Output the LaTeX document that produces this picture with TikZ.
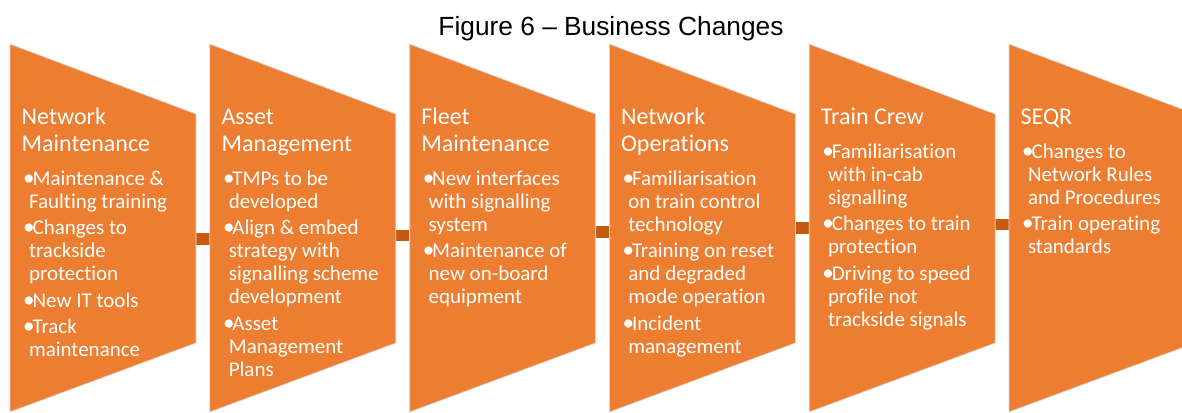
\documentclass[tikz,border=0pt]{standalone}
\usepackage{fontspec}
\setmainfont{Carlito}[Ligatures=NoCommon]
\newfontfamily\titlefont{Liberation Sans}
\definecolor{orfill}{HTML}{ED7D31}
\definecolor{orlink}{HTML}{C55A11}
\newcommand\bu{\makebox[9.8pt][l]{\hspace*{0.4pt}\rlap{\scalebox{1.1}{\textbullet}}}}
\newcommand\co{\hspace*{6.2pt}}
\newcommand\blist[1]{\begin{tabular}[t]{@{}l@{}}#1\end{tabular}}
\begin{document}
\begin{tikzpicture}[x=1pt,y=1pt,
  chev/.style={fill=orfill,draw=black!15,line width=0.8pt},
  link/.style={draw=orlink,line width=11.5pt},
  head/.style={anchor=base west,inner sep=0pt,text=white,font=\fontsize{24}{26.7}\selectfont},
  body/.style={anchor=base west,inner sep=0pt,text=white,font=\fontsize{21}{23}\selectfont},
  title/.style={anchor=base,inner sep=0pt,text=black,font=\titlefont\fontsize{26.3}{30}\selectfont}]
\useasboundingbox (0,0) rectangle (1182,412);
\clip (0,0) rectangle (1182,412);
% connector end points
\foreach \i/\yc in {0/173,1/176.6,2/180.2,3/183.8,4/187.4}{
  \pgfmathsetmacro\xa{10+199.8*\i+186}
  \pgfmathsetmacro\xb{10+199.8*(\i+1)}
  \coordinate (r\i) at (\xa,\yc);
  \coordinate (l\i) at (\xb,\yc);
}
\draw[link] (r0) -- (l0);
\draw[link] (r1) -- (l1);
\draw[link] (r2) -- (l2);
\draw[link] (r3) -- (l3);
\draw[link] (r4) -- (l4);
% chevron shapes
\foreach \i in {0,...,5}{
  \pgfmathsetmacro\xo{10+199.8*\i}
  \draw[chev] (\xo,368) -- (\xo+186,298) -- (\xo+186,69) -- (\xo,0) -- cycle;
  \coordinate (h\i) at (\xo+11.5,287);
  \coordinate (b\i) at (\xo+12.6,226.5);
  \coordinate (c\i) at (\xo+12.6,253.5);
}
\node[title] (ttl) at (611,376) {Figure 6 – Business Changes};
% box 1
\node[head] (h1t) at (h0) {\blist{Network\\Maintenance}};
\node[body] (b1t) at (b0) {\blist{\bu Maintenance \&\\ \co Faulting training\\[3.5pt]
 \bu Changes to\\ \co trackside\\ \co protection\\[3.5pt]
 \bu New IT tools\\[3.5pt]
 \bu Track\\ \co maintenance}};
% box 2
\node[head] (h2t) at (h1) {\blist{Asset\\Management}};
\node[body] (b2t) at (b1) {\blist{\bu TMPs to be\\ \co developed\\[3.5pt]
 \bu Align \& embed\\ \co strategy with\\ \co signalling scheme\\ \co development\\[3.5pt]
 \bu Asset\\ \co Management\\ \co Plans}};
% box 3
\node[head] (h3t) at (h2) {\blist{Fleet\\Maintenance}};
\node[body] (b3t) at (b2) {\blist{\bu New interfaces\\ \co with signalling\\ \co system\\[3.5pt]
 \bu Maintenance of\\ \co new on-board\\ \co equipment}};
% box 4
\node[head] (h4t) at (h3) {\blist{Network\\Operations}};
\node[body] (b4t) at (b3) {\blist{\bu Familiarisation\\ \co on train control\\ \co technology\\[3.5pt]
 \bu Training on reset\\ \co and degraded\\ \co mode operation\\[3.5pt]
 \bu Incident\\ \co management}};
% box 5
\node[head] (h5t) at (h4) {\blist{Train Crew}};
\node[body] (b5t) at (c4) {\blist{\bu Familiarisation\\ \co with in-cab\\ \co signalling\\[3.5pt]
 \bu Changes to train\\ \co protection\\[3.5pt]
 \bu Driving to speed\\ \co profile not\\ \co trackside signals}};
% box 6
\node[head] (h6t) at (h5) {\blist{SEQR}};
\node[body] (b6t) at (c5) {\blist{\bu Changes to\\ \co Network Rules\\ \co and Procedures\\[3.5pt]
 \bu Train operating\\ \co standards}};
\end{tikzpicture}
\end{document}
